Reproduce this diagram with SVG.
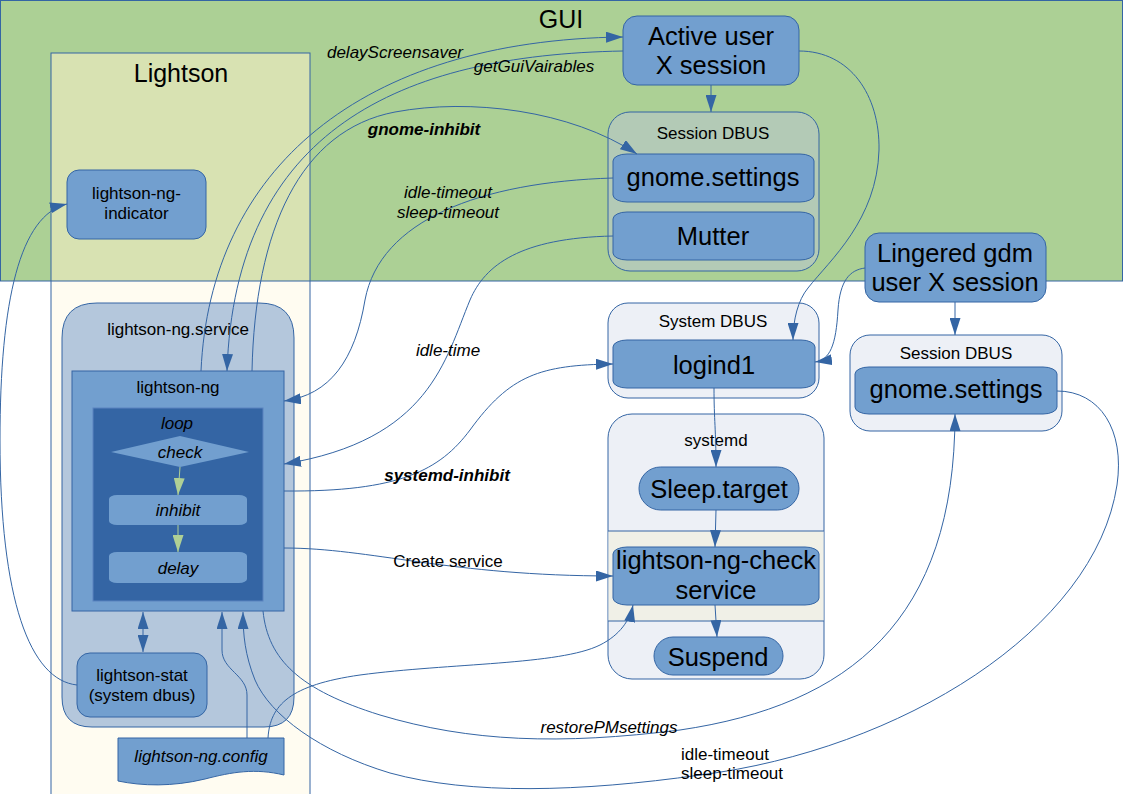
<svg xmlns="http://www.w3.org/2000/svg" width="1123" height="794" viewBox="0 0 1123 794">
<defs>
<style>
text{font-family:"Liberation Sans",Arial,sans-serif;fill:#000;text-anchor:middle}
.big{font-size:25.5px}
.sm{font-size:17px}
.it{font-style:italic}
.bi{font-style:italic;font-weight:bold}
.node{fill:#729fcf;stroke:#3465a4;stroke-width:1}
.cont{fill:#edf0f6;stroke:#3465a4;stroke-width:1}
.c{fill:none;stroke:#3465a4;stroke-width:1}
.arr{marker-end:url(#a)}
.g{fill:none;stroke:#afd095;stroke-width:1;marker-end:url(#ga)}
</style>
<marker id="a" viewBox="0 0 17 11" refX="17" refY="5.5" markerWidth="17" markerHeight="11" orient="auto-start-reverse" markerUnits="userSpaceOnUse"><path d="M0,0 L17,5.5 L0,11 z" fill="#3465a4"/></marker>
<marker id="ga" viewBox="0 0 17 11" refX="17" refY="5.5" markerWidth="17" markerHeight="11" orient="auto" markerUnits="userSpaceOnUse"><path d="M0,0 L17,5.5 L0,11 z" fill="#afd095"/></marker>
</defs>

<g id="gui">
<rect x="0" y="0" width="1123" height="281" fill="#acd095"/>
</g>
<g id="lightson">
<rect x="51" y="53" width="259" height="228" fill="#d8e2b2"/>
<rect x="51" y="281" width="259" height="520" fill="#fffcf1"/>
<rect x="0.5" y="0.5" width="1122" height="280.5" fill="none" stroke="#3465a4"/>
<rect x="51" y="53" width="259" height="760" fill="none" stroke="#3465a4"/>
<text x="561" y="28" style="font-size:25px">GUI</text>
<text x="181" y="82" style="font-size:25px">Lightson</text>
</g>

<g id="indicator">
<rect class="node" x="67" y="170" width="139" height="69" rx="12"/>
<text class="sm" x="136.5" y="199">lightson-ng-</text>
<text class="sm" x="136.5" y="219">indicator</text>
</g>

<g id="service">
<path d="M62,338 Q62,303 97,303 H259 Q294,303 294,338 V697 Q294,727 264,727 H92 Q62,727 62,697 Z" fill="#b4c7dc" stroke="#3465a4"/>
<text class="sm" x="178" y="335">lightson-ng.service</text>
</g>
<g id="lightson-ng">
<rect x="72" y="371" width="212" height="240" fill="#729fcf" stroke="#3465a4"/>
<text class="sm" x="178" y="393">lightson-ng</text>
</g>
<g id="loop">
<rect x="93" y="408" width="170" height="193" fill="#3465a4" stroke="#5b84c0"/>
<text class="sm it" x="177" y="429">loop</text>
</g>
<g id="check">
<polygon points="111,452 180,436 249,452 180,467" fill="#729fcf"/>
<text class="sm it" x="180" y="458">check</text>
</g>
<g id="inhibit">
<rect x="109" y="495" width="138" height="30" rx="8" ry="4" fill="#729fcf"/>
<text class="sm it" x="178" y="516">inhibit</text>
</g>
<g id="delay">
<rect x="109" y="552" width="138" height="31" rx="8" ry="4" fill="#729fcf"/>
<text class="sm it" x="178" y="574">delay</text>
</g>
<g id="lightson-stat">
<rect class="node" x="77" y="653" width="130" height="64" rx="13"/>
<text class="sm" x="142" y="681">lightson-stat</text>
<text class="sm" x="142" y="701">(system dbus)</text>
</g>
<g id="config">
<path class="node" d="M118,738 H284 V775 C255,768 232,772 205,779 C172,787 142,786 118,781 Z"/>
<text class="sm it" x="201" y="762">lightson-ng.config</text>
</g>

<g id="active-user">
<rect class="node" x="623" y="16" width="176" height="69" rx="14"/>
<text class="big" x="711" y="45">Active user</text>
<text class="big" x="711" y="74">X session</text>
</g>
<g id="session-dbus-1">
<rect x="608" y="112" width="211" height="159" rx="22" fill="#b3cab6" stroke="#3465a4"/>
<text class="sm" x="713" y="139">Session DBUS</text>
</g>
<g id="gnome-settings-1">
<rect class="node" x="613" y="154" width="201" height="48" rx="14" ry="7"/>
<text class="big" x="713" y="186">gnome.settings</text>
</g>
<g id="mutter">
<rect class="node" x="613" y="212" width="201" height="48" rx="14" ry="7"/>
<text class="big" x="713" y="245">Mutter</text>
</g>

<g id="lingered">
<rect class="node" x="865" y="233" width="181" height="69" rx="14"/>
<text class="big" x="955" y="262">Lingered gdm</text>
<text class="big" x="955" y="291">user X session</text>
</g>
<g id="session-dbus-2">
<rect class="cont" x="850" y="335" width="212" height="96" rx="20"/>
<text class="sm" x="956" y="359">Session DBUS</text>
</g>
<g id="gnome-settings-2">
<rect class="node" x="855" y="367" width="202" height="47" rx="14" ry="7"/>
<text class="big" x="956" y="398">gnome.settings</text>
</g>

<g id="system-dbus">
<rect class="cont" x="608" y="303" width="211" height="95" rx="20"/>
<text class="sm" x="713" y="327">System DBUS</text>
</g>
<g id="logind1">
<rect class="node" x="613" y="340" width="202" height="48" rx="14" ry="7"/>
<text class="big" x="714" y="374">logind1</text>
</g>

<g id="systemd">
<rect class="cont" x="608" y="414" width="216" height="265" rx="24"/>
<rect x="608.5" y="531" width="215" height="90" fill="#f0f0e7"/>
<line x1="608" y1="531" x2="824" y2="531" stroke="#3465a4"/>
<line x1="608" y1="621" x2="824" y2="621" stroke="#3465a4"/>
<text class="sm" x="716" y="446">systemd</text>
</g>
<g id="sleep-target">
<rect class="node" x="639" y="467" width="160" height="43" rx="21.5"/>
<text class="big" x="719" y="498">Sleep.target</text>
</g>
<g id="check-service">
<rect class="node" x="613" y="547" width="206" height="58" rx="14" ry="7"/>
<text class="big" x="716" y="569">lightson-ng-check</text>
<text class="big" x="716" y="599">service</text>
</g>
<g id="suspend">
<rect class="node" x="654" y="637" width="129" height="38" rx="19"/>
<text class="big" x="718" y="666">Suspend</text>
</g>

<g id="connectors">
<path class="c arr" d="M201,371 C210,170 360,40 623,37"/>
<path class="c arr" d="M623,51 C400,55 235,130 227,371"/>
<path class="c arr" d="M252,371 C255,230 300,130 395,112 C470,98 570,110 637,154"/>
<path class="c arr" d="M613,178 C480,182 380,220 365,300 C355,360 330,395 284,401"/>
<path class="c arr" d="M613,236 C520,238 485,265 470,300 C445,360 430,440 284,464"/>
<path class="c arr" d="M284,491 C400,492 440,470 470,430 C510,375 540,365 613,364"/>
<path class="c arr" d="M284,548 C370,548 450,576 613,576"/>
<path class="c arr" d="M263,611 C268,660 300,690 380,715 C470,742 560,745 680,730 C850,705 955,620 955,414"/>
<path class="c arr" d="M1057,391 C1100,391 1125,430 1117,485 C1095,630 900,750 700,775 C580,792 470,795 390,773 C320,752 270,715 255,680 C245,655 243,635 243,612"/>
<path class="c arr" d="M268,738 C270,705 290,685 360,675 C450,663 560,665 600,645 C620,635 630,620 633,605"/>
<path class="c arr" d="M247,738 V695 C247,675 222,670 222,650 V612"/>
<path class="c arr" d="M77,685 C30,680 0,600 0,440 C0,300 20,215 67,204"/>
<path class="c arr" d="M799,51 C850,51 880,95 879,150 C877,220 830,260 808,288 C798,300 793,320 793,340"/>
<path class="c arr" d="M865,268 C850,270 840,280 838,310 C836,345 830,360 815,362"/>
<path class="c arr" d="M711,85 V112"/>
<path class="c arr" d="M955,302 V335"/>
<path class="c arr" d="M714,388 C714,420 716,430 716,467"/>
<path class="c arr" d="M716,510 L715,547"/>
<path class="c arr" d="M715,605 L717,637"/>
<path class="c arr" d="M143,612 V652" style="marker-start:url(#a)"/>
<path class="g" d="M180,467 L178,495"/>
<path class="g" d="M178,525 L178,552"/>
<text class="sm it" x="395" y="58">delayScreensaver</text>
<text class="sm it" x="534" y="72">getGuiVairables</text>
<text class="sm bi" x="424" y="135">gnome-inhibit</text>
<text class="sm it" x="448" y="198">idle-timeout</text>
<text class="sm it" x="448" y="218">sleep-timeout</text>
<text class="sm it" x="448" y="356">idle-time</text>
<text class="sm bi" x="447" y="481">systemd-inhibit</text>
<text class="sm" x="448" y="567">Create service</text>
<text class="sm it" x="609" y="733">restorePMsettings</text>
<text class="sm" x="681" y="760" style="text-anchor:start">idle-timeout</text>
<text class="sm" x="681" y="779" style="text-anchor:start">sleep-timeout</text>
</g>
</svg>
